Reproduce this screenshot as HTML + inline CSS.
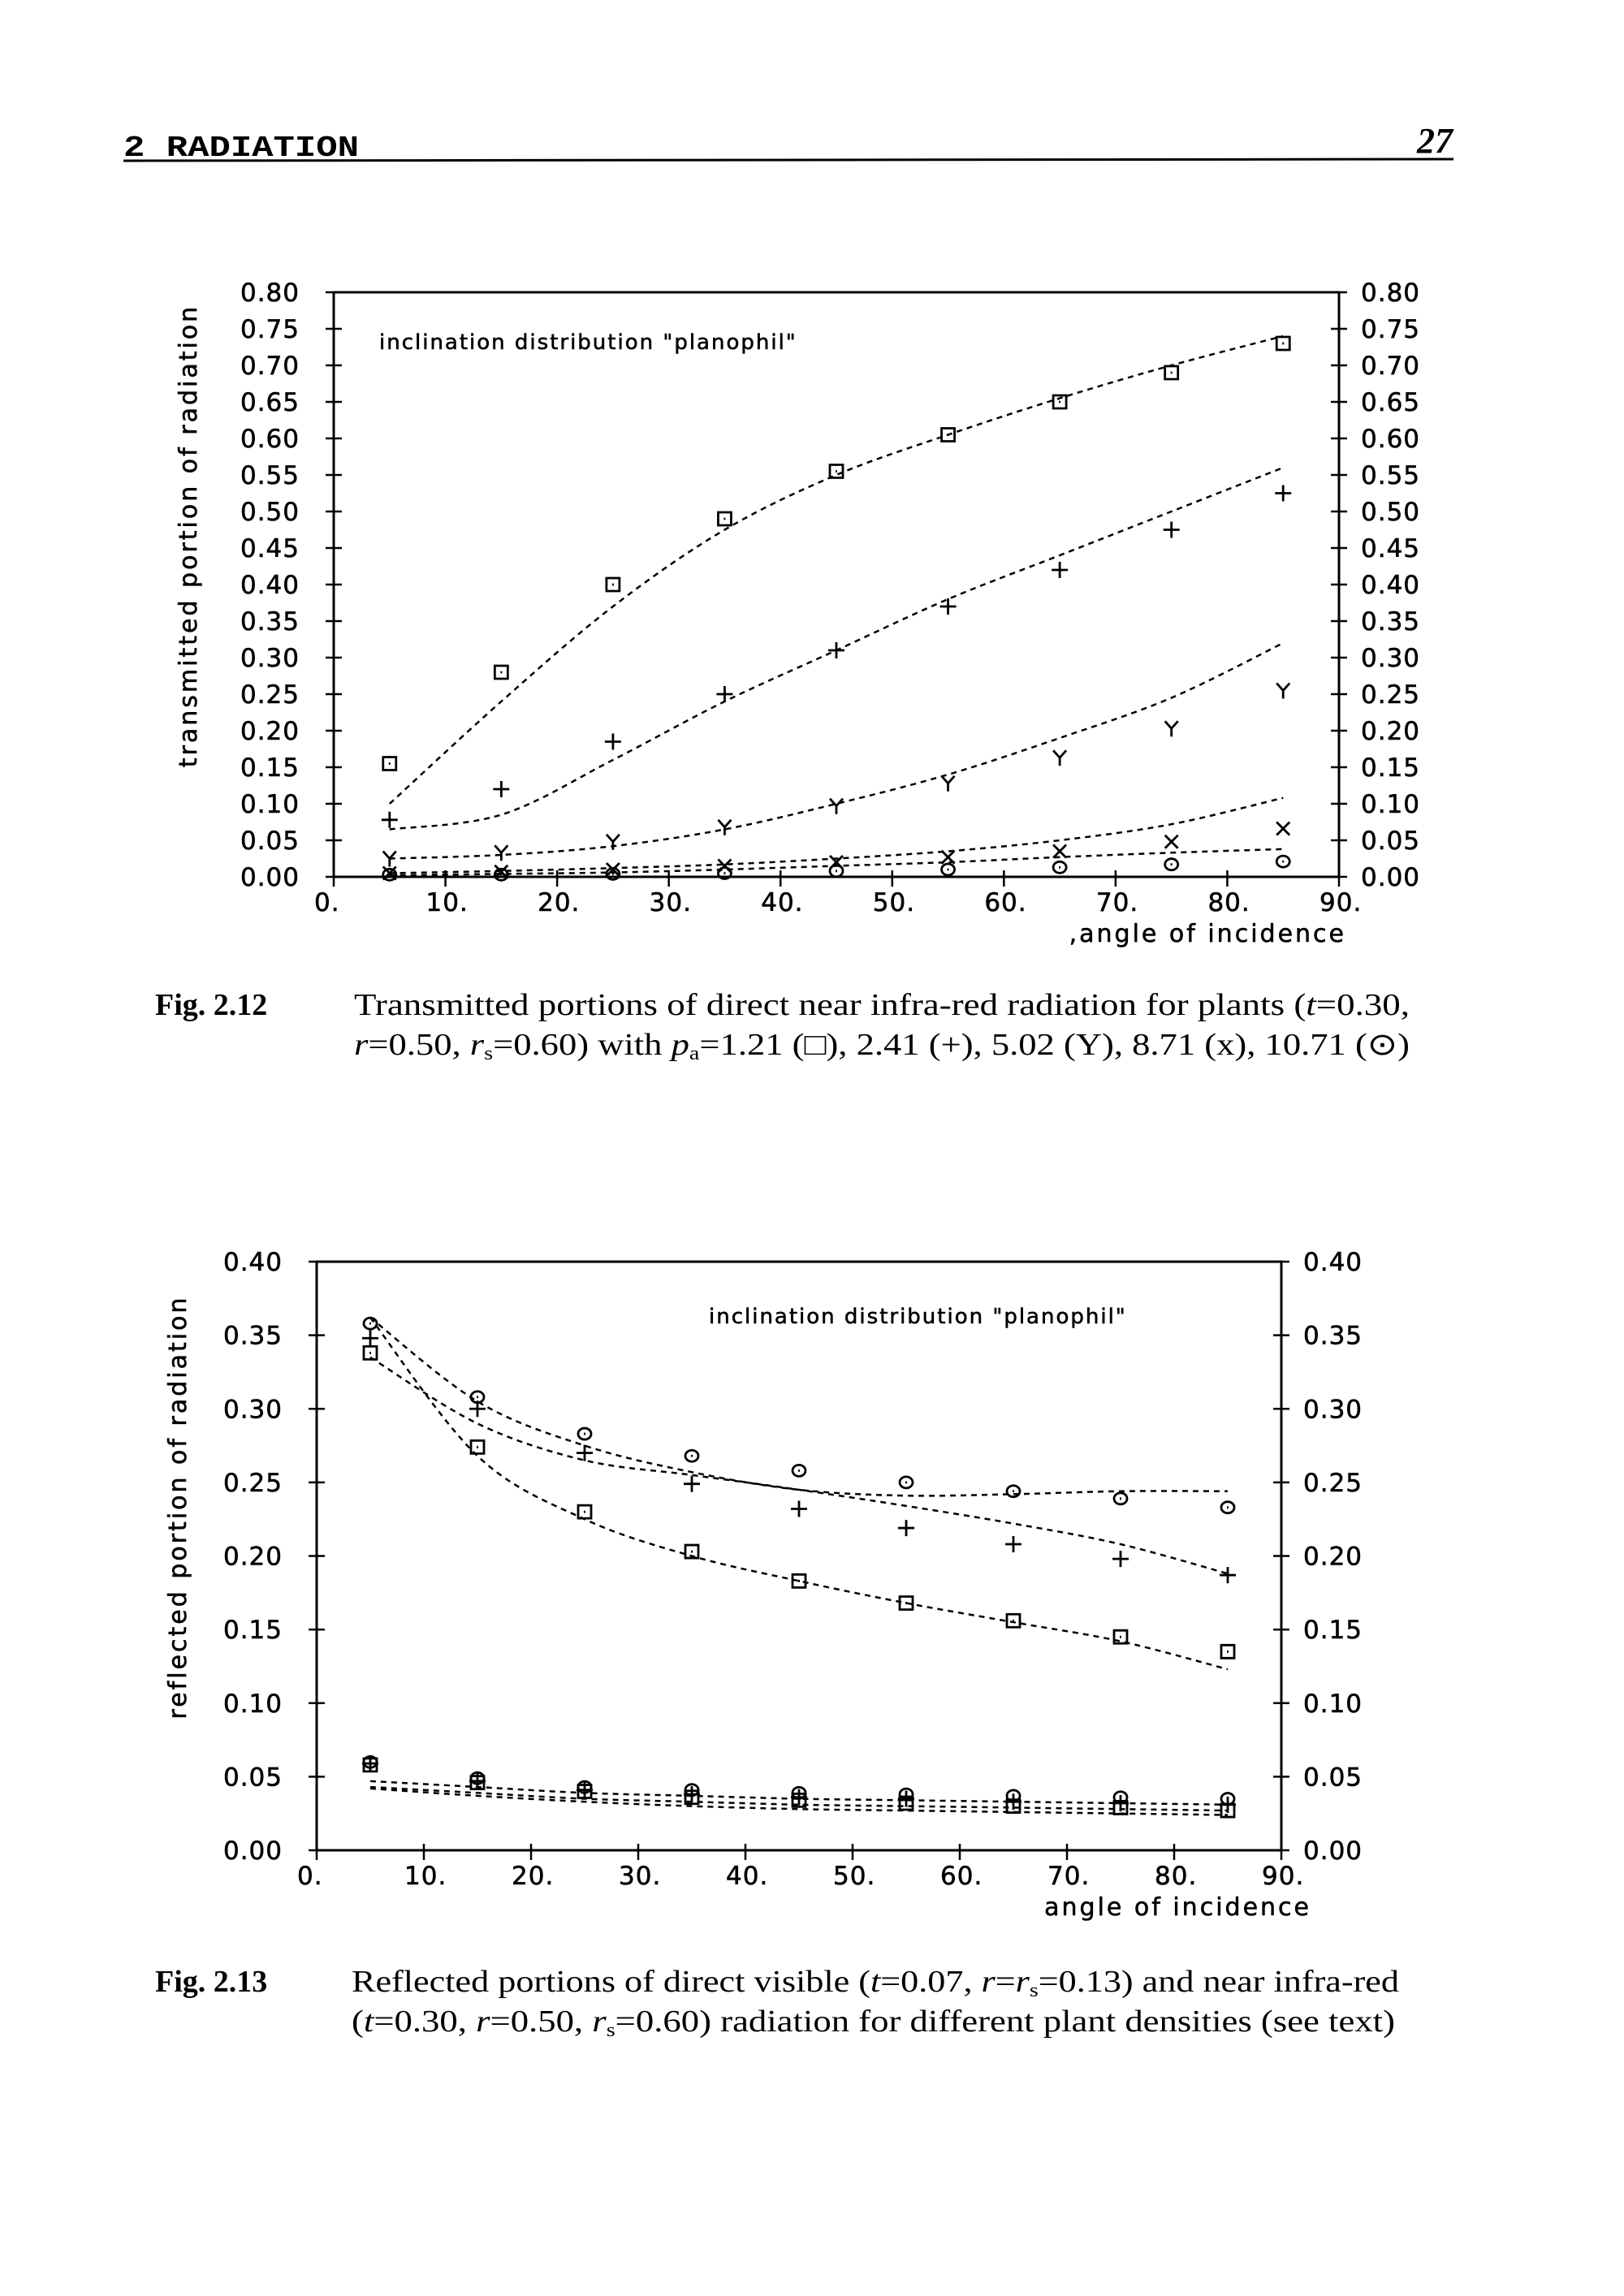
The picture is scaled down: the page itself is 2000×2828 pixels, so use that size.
<!DOCTYPE html>
<html><head><meta charset="utf-8"><style>
html,body{margin:0;padding:0;background:#fff;}
svg{display:block;}
.t{font-family:"DejaVu Sans","Liberation Sans",sans-serif;fill:#000;stroke:#000;stroke-width:0.6;}
.s{font-family:"Liberation Serif",serif;fill:#000;}
</style></head><body>
<svg id="page" width="2000" height="2828" viewBox="0 0 2000 2828" xmlns="http://www.w3.org/2000/svg">
<text x="152" y="192" font-size="36" font-weight="bold" font-family="Liberation Mono, monospace" textLength="290" lengthAdjust="spacingAndGlyphs">2  RADIATION</text>
<line x1="152" y1="198" x2="1790" y2="196" stroke="#000" stroke-width="3"/>
<text class="s" x="1745" y="188" font-size="44" font-weight="bold" font-style="italic">27</text>

<g id="c1"></g>
<g id="c2"></g>

<text class="s" x="191" y="1250" font-size="38" font-weight="bold">Fig. 2.12</text>
<text class="s" x="436" y="1250" font-size="38" textLength="1300" lengthAdjust="spacingAndGlyphs">Transmitted portions of direct near infra-red radiation for plants (<tspan font-style="italic">t</tspan>=0.30,</text>
<text class="s" x="436" y="1299" font-size="38" textLength="1300" lengthAdjust="spacingAndGlyphs"><tspan font-style="italic">r</tspan>=0.50, <tspan font-style="italic">r</tspan><tspan font-size="24" dy="6">s</tspan><tspan dy="-6">=0.60) with </tspan><tspan font-style="italic">p</tspan><tspan font-size="24" dy="6">a</tspan><tspan dy="-6">=1.21 (□), 2.41 (+), 5.02 (Y), 8.71 (x), 10.71 (⊙)</tspan></text>

<text class="s" x="191" y="2453" font-size="38" font-weight="bold">Fig. 2.13</text>
<text class="s" x="433" y="2453" font-size="38" textLength="1290" lengthAdjust="spacingAndGlyphs">Reflected portions of direct visible (<tspan font-style="italic">t</tspan>=0.07, <tspan font-style="italic">r</tspan>=<tspan font-style="italic">r</tspan><tspan font-size="24" dy="6">s</tspan><tspan dy="-6">=0.13) and near infra-red</tspan></text>
<text class="s" x="433" y="2502" font-size="38" textLength="1285" lengthAdjust="spacingAndGlyphs">(<tspan font-style="italic">t</tspan>=0.30, <tspan font-style="italic">r</tspan>=0.50, <tspan font-style="italic">r</tspan><tspan font-size="24" dy="6">s</tspan><tspan dy="-6">=0.60) radiation for different plant densities (see text)</tspan></text>
</svg>
<script>
const angles=[5,15,25,35,45,55,65,75,85];
const xTicks=[0,10,20,30,40,50,60,70,80,90];
const xTickLabels=["0.","10.","20.","30.","40.","50.","60.","70.","80.","90."];
// chart 1 (transmitted)
const c1YTicks=[0,0.05,0.1,0.15,0.2,0.25,0.3,0.35,0.4,0.45,0.5,0.55,0.6,0.65,0.7,0.75,0.8];
const t_sq=[0.155,0.28,0.40,0.49,0.555,0.605,0.65,0.69,0.73];
const t_plus=[0.078,0.12,0.185,0.25,0.31,0.37,0.42,0.475,0.525];
const t_y=[0.025,0.033,0.048,0.068,0.097,0.128,0.163,0.203,0.255];
const t_x=[0.005,0.007,0.01,0.015,0.02,0.027,0.035,0.048,0.066];
const t_o=[0.003,0.003,0.004,0.005,0.008,0.01,0.013,0.017,0.021];
const tc_sq=[0.10,0.24,0.37,0.475,0.55,0.605,0.655,0.70,0.74];
const tc_plus=[0.065,0.085,0.16,0.24,0.31,0.38,0.44,0.50,0.56];
const tc_y=[0.025,0.03,0.042,0.065,0.10,0.14,0.19,0.245,0.32];
const tc_x=[0.005,0.008,0.012,0.017,0.025,0.035,0.05,0.072,0.108];
const tc_o=[0.002,0.004,0.006,0.01,0.015,0.02,0.027,0.033,0.038];
// chart 2 (reflected)
const c2YTicks=[0,0.05,0.1,0.15,0.2,0.25,0.3,0.35,0.4];
const r_o=[0.358,0.308,0.283,0.268,0.258,0.250,0.244,0.239,0.233];
const r_plus=[0.348,0.30,0.27,0.249,0.232,0.219,0.208,0.198,0.187];
const r_sq=[0.338,0.274,0.230,0.203,0.183,0.168,0.156,0.145,0.135];
const rc_sq=[0.362,0.268,0.225,0.200,0.183,0.168,0.155,0.142,0.123];
const rc_plus=[0.335,0.29,0.265,0.255,0.245,0.234,0.222,0.208,0.188];
const rc_o=[0.362,0.305,0.275,0.257,0.245,0.241,0.242,0.244,0.244];
const v_o=[0.060,0.049,0.043,0.041,0.039,0.038,0.037,0.036,0.035];
const v_plus=[0.059,0.047,0.041,0.038,0.036,0.035,0.033,0.032,0.031];
const v_sq=[0.058,0.046,0.040,0.036,0.034,0.032,0.030,0.029,0.027];
const vc_1=[0.047,0.043,0.039,0.037,0.035,0.034,0.033,0.032,0.031];
const vc_2=[0.043,0.039,0.035,0.033,0.031,0.030,0.029,0.028,0.027];
const vc_3=[0.042,0.037,0.033,0.030,0.028,0.027,0.026,0.025,0.024];

const NS="http://www.w3.org/2000/svg";
function mk(p,tag,at){const e=document.createElementNS(NS,tag);for(const k in at)e.setAttribute(k,at[k]);p.appendChild(e);return e;}
function smooth(pts){let d="M"+pts[0][0]+","+pts[0][1];for(let i=0;i<pts.length-1;i++){const p0=pts[i-1]||pts[i],p1=pts[i],p2=pts[i+1],p3=pts[i+2]||p2;d+=" C"+(p1[0]+(p2[0]-p0[0])/6)+","+(p1[1]+(p2[1]-p0[1])/6)+" "+(p2[0]-(p3[0]-p1[0])/6)+","+(p2[1]-(p3[1]-p1[1])/6)+" "+p2[0]+","+p2[1];}return d;}
function marker(g,type,x,y){
  const st={stroke:"#000","stroke-width":2.8,fill:"none"};let d;
  if(type==="sq"){d=`M${x-8},${y-8}h16v16h-16z M${x-1},${y}h2`;}
  else if(type==="plus"){d=`M${x-10},${y}h20 M${x},${y-10}v20`;}
  else if(type==="y"){d=`M${x-8},${y-9}L${x},${y}L${x+8},${y-9} M${x},${y}v10`;}
  else if(type==="x"){d=`M${x-8},${y-8}L${x+8},${y+8} M${x+8},${y-8}L${x-8},${y+8}`;}
  else if(type==="o"){d=`M${x-8},${y}a8,7 0 1,0 16,0a8,7 0 1,0 -16,0 M${x-1},${y}h2`;}
  const e=mk(g,"path",Object.assign({d:d},st));
  
  
}
function chart(g,L,R,T,B,ymax,yTicks,yTitle,yTitleX,legend,legX,legY,xTitle,xTitleX,series,curves){
  const X=v=>L+(R-L)*v/90, Y=v=>B-(B-T)*v/ymax;
  const fr=mk(g,"path",{d:`M${L},${B}V${T}H${R}V${B}H${L}`,stroke:"#000","stroke-width":3,fill:"none"});
  
  
  yTicks.forEach(v=>{
    const y=Y(v);
    const tk=mk(g,"path",{d:`M${L-10},${y}h20 M${R-10},${y}h20`,stroke:"#000","stroke-width":2.5});
    
    
    const a=mk(g,"text",{class:"t",x:L-42,y:y+11,"font-size":31,"text-anchor":"end","letter-spacing":"1"});a.textContent=v.toFixed(2);
    
    
    const b=mk(g,"text",{class:"t",x:R+27,y:y+11,"font-size":31,"letter-spacing":"1"});b.textContent=v.toFixed(2);
    
    
  });
  xTicks.forEach((v,i)=>{
    const x=X(v);
    const tk=mk(g,"path",{d:`M${x},${B-8}v20`,stroke:"#000","stroke-width":2.5});
    
    
    const a=mk(g,"text",{class:"t",x:x-24,y:B+42,"font-size":31,"letter-spacing":"1"});a.textContent=xTickLabels[i];
    
    
  });
  const xt=mk(g,"text",{class:"t",x:xTitleX,y:B+80,"font-size":30,"text-anchor":"end","letter-spacing":"3"});xt.textContent=xTitle;
  
  
  const cy=(T+B)/2-60;
  const yt=mk(g,"text",{class:"t",x:yTitleX,y:cy,"font-size":30,"text-anchor":"middle","letter-spacing":"3",transform:`rotate(-90 ${yTitleX} ${cy})`});yt.textContent=yTitle;
  
  
  const lg=mk(g,"text",{class:"t",x:legX,y:legY,"font-size":26,"letter-spacing":"2"});lg.textContent=legend;
  
  
  curves.forEach(c=>{
    const p=mk(g,"path",{d:smooth(angles.map((a,i)=>[X(a),Y(c[i])])),stroke:"#000","stroke-width":2.5,fill:"none","stroke-dasharray":"7 6"});
    
    
  });
  series.forEach(s=>{angles.forEach((a,i)=>marker(g,s[0],X(a),Y(s[1][i])));});
}
chart(document.getElementById("c1"),411,1649,360,1080,0.8,c1YTicks,"transmitted portion of radiation",242,"inclination distribution \"planophil\"",467,430,",angle of incidence",1658,
 [["sq",t_sq],["plus",t_plus],["y",t_y],["x",t_x],["o",t_o]],[tc_sq,tc_plus,tc_y,tc_x,tc_o]);
chart(document.getElementById("c2"),390,1578,1554,2279,0.4,c2YTicks,"reflected portion of radiation",229,"inclination distribution \"planophil\"",873,1630,"angle of incidence",1615,
 [["sq",r_sq],["plus",r_plus],["o",r_o],["sq",v_sq],["plus",v_plus],["o",v_o]],[rc_sq,rc_plus,rc_o,vc_1,vc_2,vc_3]);
</script>
</body></html>
